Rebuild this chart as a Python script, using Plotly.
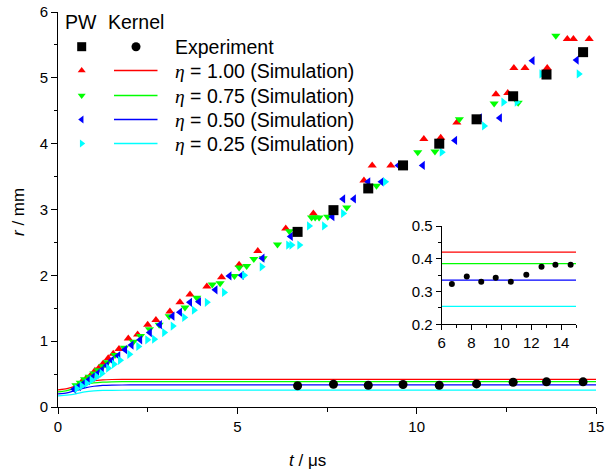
import plotly.graph_objects as go

# ---------------- data ----------------
# Experiment (PW squares, Kernel circles)
exp_t = [6.68, 7.68, 8.65, 9.62, 10.63, 11.67, 12.69, 13.62, 14.64]
exp_pw_r = [2.66, 2.99, 3.32, 3.67, 4.00, 4.37, 4.72, 5.05, 5.39]
exp_kernel_r = [0.323, 0.346, 0.330, 0.342, 0.330, 0.351, 0.376, 0.382, 0.382]

# PW simulations
pw100_t = [0.55, 0.66, 0.78, 0.91, 1.03, 1.15, 1.26, 1.40, 1.54, 1.70, 1.96, 2.22, 2.50, 2.73,
           3.12, 3.40, 3.68, 4.15, 4.56, 5.05, 5.57, 6.35, 7.12, 8.53, 8.76, 9.28, 10.20, 10.67,
           11.12, 12.21, 12.54, 12.71, 13.02, 13.64, 14.20, 14.37, 14.81]
pw100_r = [0.31, 0.38, 0.43, 0.48, 0.55, 0.60, 0.66, 0.74, 0.81, 0.88, 1.04, 1.10, 1.25, 1.32,
           1.45, 1.59, 1.71, 1.83, 1.97, 2.16, 2.37, 2.71, 2.94, 3.44, 3.67, 3.67, 4.07, 4.09,
           4.32, 4.75, 4.77, 5.15, 5.15, 5.15, 5.59, 5.59, 5.59]

pw075_t = [0.50, 0.62, 0.74, 0.87, 1.00, 1.12, 1.25, 1.38, 1.59, 1.85, 2.10, 2.30, 2.55, 2.82,
           3.10, 3.54, 3.87, 4.30, 4.52, 4.92, 5.05, 5.26, 5.46, 5.72, 6.12, 6.45, 7.07, 7.17,
           7.28, 7.52, 8.05, 8.88, 10.03, 10.51, 11.19, 12.16, 12.83, 13.88]
pw075_r = [0.33, 0.37, 0.42, 0.46, 0.51, 0.56, 0.62, 0.68, 0.79, 0.90, 0.99, 1.08, 1.18, 1.25,
           1.38, 1.51, 1.66, 1.86, 1.88, 1.99, 2.12, 2.14, 2.25, 2.26, 2.47, 2.67, 2.88, 2.88,
           2.88, 2.89, 3.03, 3.36, 3.87, 3.88, 4.37, 4.61, 4.62, 5.64]

pw050_t = [0.45, 0.58, 0.70, 0.83, 0.96, 1.09, 1.22, 1.36, 1.50, 1.68, 1.87, 2.05, 2.29, 2.56,
           2.84, 3.19, 3.40, 3.68, 3.93, 4.39, 4.78, 5.12, 5.70, 6.49, 7.65, 7.95, 8.25, 8.65,
           9.02, 9.49, 10.17, 11.07, 11.76, 12.32, 13.23, 14.46]
pw050_r = [0.27, 0.31, 0.35, 0.40, 0.45, 0.50, 0.56, 0.63, 0.71, 0.78, 0.87, 0.94, 1.02, 1.13,
           1.25, 1.38, 1.44, 1.59, 1.60, 1.78, 1.99, 2.00, 2.26, 2.59, 2.89, 3.16, 3.16, 3.42,
           3.42, 3.67, 3.67, 4.05, 4.39, 4.39, 5.26, 5.27]

pw025_t = [0.52, 0.66, 0.80, 0.94, 1.08, 1.22, 1.40, 1.56, 1.73, 1.99, 2.24, 2.49, 2.68, 2.96,
           3.20, 3.52, 3.79, 4.15, 4.63, 5.19, 5.68, 6.42, 6.51, 6.73, 7.00, 7.42, 7.95, 9.12,
           10.70, 11.88, 12.42, 12.79, 13.48, 14.52]
pw025_r = [0.28, 0.32, 0.36, 0.41, 0.46, 0.51, 0.59, 0.65, 0.71, 0.80, 0.92, 1.02, 1.03, 1.13,
           1.23, 1.36, 1.47, 1.59, 1.74, 2.00, 2.13, 2.46, 2.46, 2.46, 2.75, 2.75, 2.94, 3.42,
           3.87, 4.27, 4.63, 4.63, 5.06, 5.06]

# Kernel simulations (lines)
kern_t = [0.0, 0.25, 0.5, 0.75, 1.0, 1.25, 1.5, 2.0, 6.0, 15.0]
kern100_r = [0.26, 0.28, 0.32, 0.37, 0.40, 0.413, 0.418, 0.42, 0.42, 0.42]
kern075_r = [0.23, 0.25, 0.29, 0.34, 0.366, 0.378, 0.383, 0.385, 0.385, 0.385]
kern050_r = [0.20, 0.215, 0.25, 0.29, 0.315, 0.328, 0.333, 0.335, 0.335, 0.335]
kern025_r = [0.17, 0.18, 0.20, 0.23, 0.245, 0.252, 0.254, 0.255, 0.255, 0.255]

series_names = ["1.00", "0.75", "0.50", "0.25"]
series_colors = ["#FF0000", "#00FF00", "#0000FF", "#00FFFF"]
series_symbols = ["triangle-up", "triangle-down", "triangle-left", "triangle-right"]

x_ticks = [0, 5, 10, 15]
y_ticks = [0, 1, 2, 3, 4, 5, 6]
inset_x_ticks = [6, 8, 10, 12, 14]
inset_y_ticks = [0.2, 0.3, 0.4, 0.5]

pw_t = [pw100_t, pw075_t, pw050_t, pw025_t]
pw_r = [pw100_r, pw075_r, pw050_r, pw025_r]
kern_r = [kern100_r, kern075_r, kern050_r, kern025_r]

# ---------------- figure ----------------
FONT = "Liberation Sans, Arial, sans-serif"
W, H = 606, 472
L, R, T, B = 58, 10, 12, 65
pw_ = W - L - R
ph_ = H - T - B

def px(xp):
    return (xp - L) / pw_

def py(yp):
    return (H - B - yp) / ph_

fig = go.Figure()

# main-plot kernel lines
for rr, c in zip(kern_r, series_colors):
    fig.add_trace(go.Scatter(x=kern_t, y=rr, mode="lines", line=dict(color=c, width=1.2, shape="spline", smoothing=0.6),
                             showlegend=False, hoverinfo="skip"))

# PW markers
for tt, rr, c, s in zip(pw_t, pw_r, series_colors, series_symbols):
    fig.add_trace(go.Scatter(x=tt, y=rr, mode="markers",
                             marker=dict(symbol=s, size=8, color=c, line=dict(width=0)),
                             showlegend=False))

# experiment
fig.add_trace(go.Scatter(x=exp_t, y=exp_pw_r, mode="markers",
                         marker=dict(symbol="square", size=10, color="black", line=dict(width=0)), showlegend=False))
fig.add_trace(go.Scatter(x=exp_t, y=exp_kernel_r, mode="markers",
                         marker=dict(symbol="circle", size=9, color="black", line=dict(width=0)), showlegend=False))

# inset
for rr, c in zip(kern_r, series_colors):
    fig.add_trace(go.Scatter(x=[6, 15], y=[rr[-1], rr[-1]], mode="lines", line=dict(color=c, width=1.2),
                             xaxis="x2", yaxis="y2", showlegend=False, hoverinfo="skip"))
fig.add_trace(go.Scatter(x=exp_t, y=exp_kernel_r, mode="markers",
                         marker=dict(symbol="circle", size=6, color="black", line=dict(width=0)),
                         xaxis="x2", yaxis="y2", showlegend=False))

# legend keys (pixel-like overlay axis)
leg_rows = [70.5, 95.5, 119.5, 143.5]
fig.add_trace(go.Scatter(x=[81.7], y=[46.7], mode="markers",
                         marker=dict(symbol="square", size=9, color="black", line=dict(width=0)),
                         xaxis="x3", yaxis="y3", showlegend=False, hoverinfo="skip"))
fig.add_trace(go.Scatter(x=[136], y=[46.7], mode="markers",
                         marker=dict(symbol="circle", size=9, color="black", line=dict(width=0)),
                         xaxis="x3", yaxis="y3", showlegend=False, hoverinfo="skip"))
for yr, c, s in zip(leg_rows, series_colors, series_symbols):
    fig.add_trace(go.Scatter(x=[81.7], y=[yr], mode="markers", marker=dict(symbol=s, size=7, color=c, line=dict(width=0)),
                             xaxis="x3", yaxis="y3", showlegend=False, hoverinfo="skip"))
    fig.add_trace(go.Scatter(x=[114, 157.5], y=[yr, yr], mode="lines", line=dict(color=c, width=1.5),
                             xaxis="x3", yaxis="y3", showlegend=False, hoverinfo="skip"))

annotations = []
def text(x, y, s, size=19.5, xanchor="left", angle=0):
    annotations.append(dict(x=px(x), y=py(y), xref="paper", yref="paper", text=s, showarrow=False,
                            xanchor=xanchor, yanchor="middle", textangle=angle,
                            font=dict(family=FONT, size=size, color="black")))

text(80.5, 22, "PW", xanchor="center")
text(136, 22, "Kernel", xanchor="center")
text(173, 46.7, "Experiment")
eta = "<span style=\"font-family:'Liberation Serif';font-style:italic\">η</span>"
for yr, nm in zip(leg_rows, series_names):
    text(173, yr, f"{eta} = {nm} (Simulation)")

text(307, 460, "<i>t</i> / μs", size=17, xanchor="center")
text(18, 212, "<i>r</i> / mm", size=17, xanchor="center", angle=-90)

axis_common = dict(showline=True, linecolor="black", linewidth=1, ticks="outside", tickcolor="black",
                   tickwidth=1, showgrid=False, zeroline=False, mirror=False, automargin=False,
                   tickfont=dict(family=FONT, size=15, color="black"))

fig.update_layout(
    template="none",
    width=W, height=H, margin=dict(l=L, r=R, t=T, b=B, pad=0), autosize=False,
    font=dict(family=FONT, color="black"),
    paper_bgcolor="white", plot_bgcolor="rgba(0,0,0,0)",
    showlegend=False, annotations=annotations, hovermode=False,
    xaxis=dict(range=[0, 15], tickvals=x_ticks, ticklen=6,
               minor=dict(ticks="outside", ticklen=3.5, dtick=2.5, tickcolor="black", showgrid=False),
               domain=[0, 1], anchor="y", **axis_common),
    yaxis=dict(range=[0, 6], tickvals=y_ticks, ticklen=6,
               minor=dict(ticks="outside", ticklen=3.5, dtick=0.5, tickcolor="black", showgrid=False),
               domain=[0, 1], anchor="x", **axis_common),
    xaxis2=dict(range=[6, 15], tickvals=inset_x_ticks, ticklen=5,
                minor=dict(ticks="outside", ticklen=3, dtick=1, tickcolor="black", showgrid=False),
                domain=[px(441.7), px(576)], anchor="y2", **axis_common),
    yaxis2=dict(range=[0.2, 0.5], tickvals=inset_y_ticks, tickformat=".1f", ticklen=5,
                minor=dict(ticks="outside", ticklen=3, dtick=0.05, tickcolor="black", showgrid=False),
                domain=[py(324.3), py(226)], anchor="x2", **axis_common),
    xaxis3=dict(range=[L, W - R], domain=[0, 1], visible=False, overlaying="x", anchor="y3",
                fixedrange=True, automargin=False),
    yaxis3=dict(range=[H - B, T], domain=[0, 1], visible=False, overlaying="y", anchor="x3",
                fixedrange=True, automargin=False),
)

fig.write_html("out.html",
               config={"displayModeBar": False, "responsive": False},
               post_script="document.body.style.margin='0px';document.body.style.overflow='hidden';")
